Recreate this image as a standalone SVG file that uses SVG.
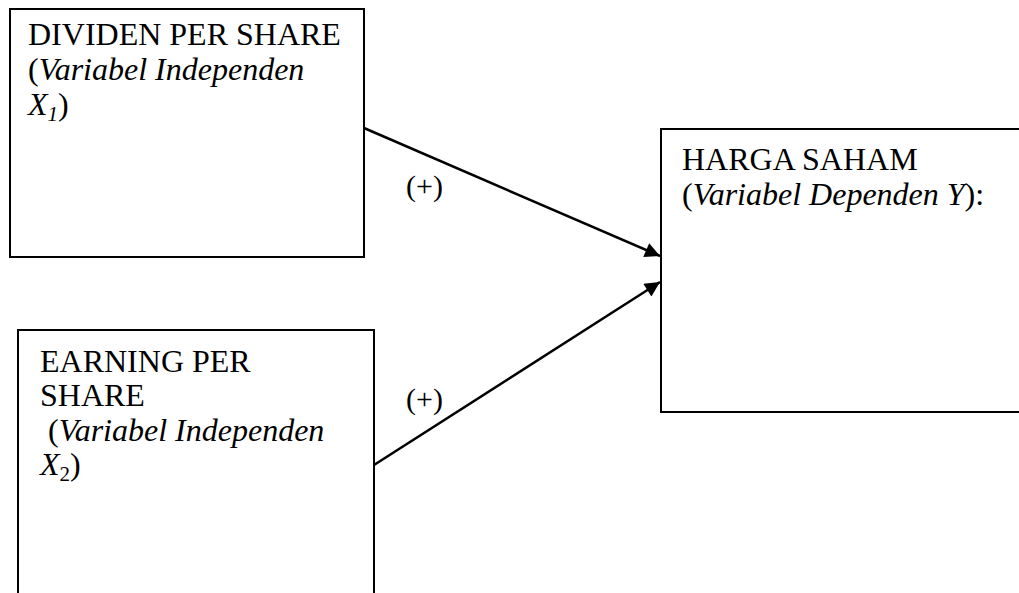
<svg xmlns="http://www.w3.org/2000/svg" width="1019" height="593" viewBox="0 0 1019 593">
<defs>
<style>
.box{fill:#fff;stroke:#000;stroke-width:2}
.t{font-family:"Liberation Serif","Times New Roman",serif;font-size:32px;fill:#000}
.i{font-style:italic}
.sub{font-size:21px}
.lbl{font-family:"Liberation Serif","Times New Roman",serif;font-size:30px;fill:#000}
.edge{stroke:#000;stroke-width:2.5;fill:none}
</style>
<marker id="ah" viewBox="0 0 10 10" refX="10" refY="5" markerWidth="7" markerHeight="6" markerUnits="strokeWidth" orient="auto">
<path d="M0,0 L10,5 L0,10 z" fill="#000"/>
</marker>
</defs>
<rect width="1019" height="593" fill="#fff"/>
<g id="node-dps">
<rect class="box" x="10" y="9" width="354" height="248"/>
<text class="t" x="28" y="45">DIVIDEN PER SHARE</text>
<text class="t" x="28" y="80">(<tspan class="i">Variabel Independen</tspan></text>
<text class="t" x="28" y="115"><tspan class="i">X</tspan><tspan class="i sub" dy="6">1</tspan><tspan dy="-6">)</tspan></text>
</g>
<g id="node-eps">
<rect class="box" x="18" y="330" width="356" height="300"/>
<text class="t" x="40" y="372">EARNING PER</text>
<text class="t" x="40" y="406">SHARE</text>
<text class="t" x="40" y="441" xml:space="preserve"> (<tspan class="i">Variabel Independen</tspan></text>
<text class="t" x="40" y="475"><tspan class="i">X</tspan><tspan class="sub" dy="6">2</tspan><tspan dy="-6">)</tspan></text>
</g>
<g id="node-harga">
<rect class="box" x="661" y="129" width="400" height="283"/>
<text class="t" x="682" y="170">HARGA SAHAM</text>
<text class="t" x="682" y="205">(<tspan class="i">Variabel Dependen Y</tspan>):</text>
</g>
<g id="connectors">
<line class="edge" x1="364" y1="128" x2="660" y2="256" marker-end="url(#ah)"/>
<line class="edge" x1="374" y1="465" x2="660" y2="282" marker-end="url(#ah)"/>
<text class="lbl" x="406" y="196">(+)</text>
<text class="lbl" x="406" y="409">(+)</text>
</g>
</svg>
